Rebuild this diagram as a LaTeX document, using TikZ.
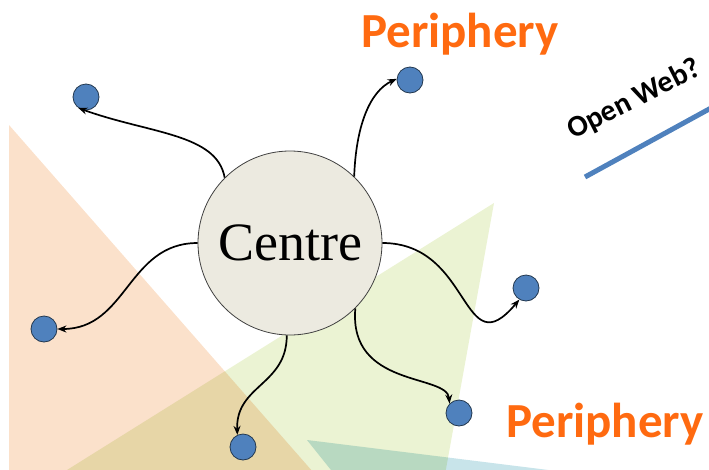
\documentclass[tikz,border=0pt]{standalone}
\usepackage{fontspec}
\setmainfont{Liberation Serif}
\newfontfamily\calibri{Carlito}
\usetikzlibrary{arrows.meta}
\usepackage{xcolor}
\definecolor{peach}{HTML}{FBE1CB}
\definecolor{leaf}{HTML}{EBF3D3}
\definecolor{sky}{HTML}{C8E4EA}
\definecolor{dotblue}{HTML}{4F81BD}
\definecolor{dotedge}{HTML}{23384F}
\definecolor{hub}{HTML}{ECEAE0}
\definecolor{periphorange}{HTML}{FF6A10}

\begin{document}
\begin{tikzpicture}[x=1pt,y=1pt,
  dot/.style={circle,fill=dotblue,draw=dotedge,line width=0.8pt,minimum size=26pt,inner sep=0pt},
  link/.style={line width=1.7pt,-{Stealth[length=9pt,width=7pt]}},
  periph/.style={text=periphorange,font=\calibri\bfseries\fontsize{49}{49}\selectfont,inner sep=0pt,anchor=base}]
\def\W{709}
\def\H{469}
\useasboundingbox (0,0) rectangle (\W,-\H);
\begin{scope}
\clip (0,0) rectangle (\W,-\H);
\fill[peach] (9,-125) -- (320,-480) -- (9,-480) -- cycle;
\begin{scope}[blend mode=multiply]
\fill[leaf] (494,-203) -- (51,-480) -- (444,-480) -- cycle;
\fill[sky] (307,-440) -- (629,-480) -- (339,-480) -- cycle;
\end{scope}
\end{scope}

% open web line
\coordinate (W1) at (585,-177);
\coordinate (W2) at (722,-102);
\draw[dotblue,line width=5pt] (W1) -- (W2);
\node[font=\calibri\bfseries\fontsize{30}{30}\selectfont,rotate=27,anchor=base west,inner sep=0pt] (web) at (573,-140) {Open Web?};

\node[circle,fill=hub,draw=black!75,line width=0.8pt,minimum size=184pt,inner sep=0pt,
  font=\fontsize{54}{54}\selectfont] (C) at (290,-243) {Centre};

\foreach \name/\x/\y in {n1/86/97,n2/410/80,n3/526/288,n4/44/329,n5/243/447,n6/459/413}
  \node[dot] (\name) at (\x,-\y) {};

\draw[link] (C.135) to[out=100,in=-20,out distance=45pt,in distance=75pt] (n1.235);
\draw[link] (C.46) to[out=88,in=205,out distance=50pt,in distance=30pt] (n2.175);
\draw[link] (C.0) to[out=0,in=230,distance=90pt] (n3.240);
\draw[link] (C.180) to[out=180,in=0,distance=70pt] (n4.0);
\draw[link] (C.268) to[out=-90,in=92,distance=50pt] (n5.115);
\draw[link] (C.-45) to[out=-95,in=95,out distance=80pt,in distance=30pt] (n6.135);

\node[periph] (top) at (460,-47) {Periphery};
\node[periph] (bottom) at (605,-437) {Periphery};
\end{tikzpicture}
\end{document}
